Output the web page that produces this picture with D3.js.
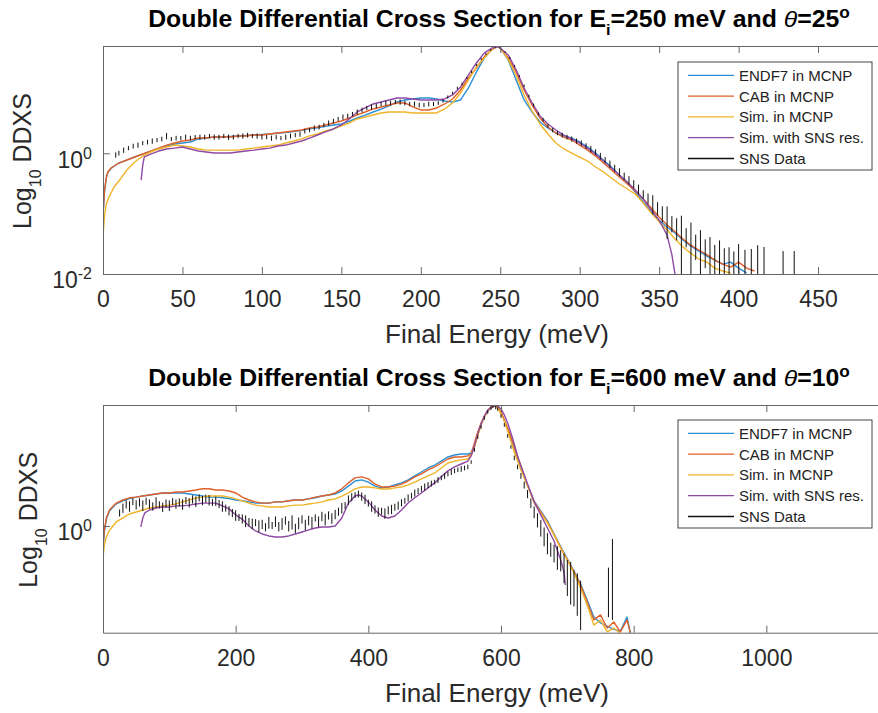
<!DOCTYPE html>
<html>
<head>
<meta charset="utf-8">
<script src="https://cdn.jsdelivr.net/npm/d3@7"></script>
<style>
  body { margin: 0; background: #fff; }
  svg { display: block; }
  text { font-family: "Liberation Sans", Arial, Helvetica, sans-serif; }
</style>
</head>
<body>
<svg id="chart" width="878" height="713"></svg>
<script>
// ---------------- DATA ----------------
const seriesNames = ["ENDF7 in MCNP", "CAB in MCNP", "Sim. in MCNP", "Sim. with SNS res.", "SNS Data"];
const seriesColors = ["#2b8fd6", "#e0602a", "#f0b429", "#8f4aa3", "#111111"];

// Panel 1: Ei = 250 meV, theta = 25 deg
const energy250 = [0,1,2,3,5,7,10,15,20,24,25,26,30,35,40,45,50,55,60,65,70,75,80,85,90,95,100,105,110,115,120,125,130,135,140,145,150,155,160,165,170,175,180,185,190,195,200,205,210,215,220,225,230,235,240,245,248,250,255,260,265,270,275,280,285,290,295,300,305,310,315,320,325,330,335,340,345,350,355,358,360,365,370,375,380,385,390,395,400,405,410];
const endf250 = [0.09,0.24,0.38,0.48,0.56,0.61,0.69,0.77,0.87,null,0.97,null,1.09,1.20,1.33,1.42,1.48,1.54,1.73,1.79,1.86,1.86,1.90,1.94,1.97,2.01,2.05,2.09,2.17,2.21,2.30,2.40,2.55,2.65,2.80,2.95,3.06,3.40,3.85,4.30,4.84,5.40,6.09,7.09,7.65,7.95,8.26,8.26,7.95,7.37,7.09,7.65,12.1,22.3,38.0,53.7,57.9,55.7,35.3,16.4,7.65,4.84,3.30,2.63,2.17,1.94,1.79,1.54,1.27,1.01,0.77,0.59,0.436,0.322,0.228,0.156,0.106,0.078,0.060,null,0.048,0.0365,0.029,0.024,0.0198,0.017,0.0146,0.0157,0.0125,0.0104,null];
const cab250 = [0.095,0.246,0.389,0.49,0.57,0.616,0.69,0.774,0.868,null,0.974,null,1.09,1.22,1.37,1.48,1.60,1.66,1.79,1.79,1.86,1.86,1.86,1.94,1.94,2.01,2.01,2.09,2.17,2.26,2.34,2.43,2.63,2.73,2.95,3.18,3.43,3.85,4.32,4.84,5.43,5.86,6.32,6.83,6.83,5.86,5.23,5.23,5.64,6.57,7.95,11.2,17.7,26.0,40.0,53.0,57.9,55.7,38.0,22.3,11.2,6.32,3.85,2.73,2.17,1.86,1.66,1.37,1.13,0.90,0.69,0.53,0.405,0.31,0.237,0.175,0.124,0.088,0.065,null,0.050,0.038,0.030,0.025,0.021,0.017,0.0146,0.013,0.0157,0.0125,0.0112];
const sim250 = [0.041,0.095,0.139,0.168,0.22,0.276,0.347,0.529,0.717,null,0.902,null,1.05,1.18,1.27,1.37,1.32,1.27,1.18,1.13,1.13,1.13,1.13,1.13,1.18,1.22,1.27,1.32,1.37,1.48,1.60,1.73,1.94,2.09,2.34,2.53,2.84,3.18,3.71,4.00,4.32,4.66,4.84,4.84,4.84,4.66,4.66,4.66,4.66,5.43,6.83,10.0,16.4,27.0,38.0,53.7,57.9,55.7,36.0,19.5,9.26,5.03,3.06,2.09,1.48,1.18,1.01,0.868,0.745,0.593,0.49,0.389,0.31,0.256,0.211,0.15,0.102,0.073,0.054,null,0.038,0.028,0.022,0.0177,0.0157,0.0125,0.0112,0.0104,null,null,null];
const simRes250 = [null,null,null,null,null,null,null,null,null,0.36,0.64,0.87,0.97,1.09,1.18,1.22,1.27,1.18,1.09,1.05,1.01,1.01,1.01,1.05,1.09,1.13,1.18,1.22,1.32,1.37,1.48,1.60,1.79,2.01,2.26,2.53,2.95,3.71,4.84,5.64,6.57,7.09,7.65,8.26,8.26,7.95,7.65,7.65,7.65,7.95,9.26,12.6,19.9,31.4,46.1,55.7,57.9,55.7,42.7,24.1,12.1,6.83,4.16,3.06,2.43,2.01,1.73,1.48,1.22,0.97,0.745,0.57,0.436,0.334,0.246,0.175,0.115,0.078,0.044,0.021,0.0098,null,null,null,null,null,null,null,null,null,null];
const snsE250 = [8,10,13,16,19,22,25,28,31,34,37,
  40,43,46,49,52,55,58,61,64,67,70,
  73,76,79,82,85,88,91,94,97,100,103,
  106,109,112,115,118,121,124,127,130,133,136,
  139,142,145,148,151,154,157,160,163,166,169,
  172,175,178,181,184,187,190,193,196,199,202,
  205,208,211,214,217,220,223,226,229,232,235,
  238,241,244,247,250,253,256,259,262,265,268,
  271,274,277,280,283,286,289,292,295,298,
  301,304,307,310,313,316,319,322,325,328,331,334,337,340,
  343,346,349,352,355,358,361,364,367,370,373,376,379,382,385,388,391,394,397,400,
  404,408,412,416,428,435];
const snsV250 = [0.94,1.01,1.13,1.22,1.32,1.37,1.48,1.54,1.60,1.66,1.73,
  1.94,1.73,1.79,1.79,1.86,1.79,1.86,1.86,1.86,1.94,1.86,
  1.86,1.94,1.86,1.86,1.94,1.94,2.01,1.94,1.94,1.86,1.86,
  1.79,1.86,1.79,1.86,1.94,2.01,2.09,2.34,2.43,2.63,2.73,
  2.95,3.18,3.43,3.71,4.00,4.16,4.49,4.84,5.23,5.64,5.86,
  6.09,6.57,6.83,6.83,7.09,7.09,6.83,6.57,6.57,6.32,6.32,
  6.57,6.57,6.83,7.37,8.58,10.0,12.1,14.1,17.7,22.3,29.1,
  36.6,44.4,51.6,57.9,55.7,47.9,38.0,28.0,19.1,13.1,8.92,
  6.32,4.49,3.57,2.84,2.43,2.17,2.01,1.86,1.73,1.60,
  1.48,1.32,1.18,1.05,0.90,0.774,0.665,0.57,0.49,0.42,0.361,0.31,0.256,0.211,
  0.18,0.15,0.124,0.102,0.085,0.070,0.060,0.050,0.0425,0.0365,0.031,0.028,0.025,0.021,0.019,0.018,0.0157,0.0146,0.0135,0.0157,
  0.014,0.013,0.015,0.014,0.012,0.012];
const snsErr250 = [0.10,0.09,0.10,0.08,0.09,0.10,0.08,0.09,0.10,0.08,0.09,
  0.12,0.08,0.09,0.08,0.10,0.09,0.08,0.10,0.09,0.08,0.10,
  0.09,0.08,0.10,0.09,0.08,0.10,0.09,0.08,0.10,0.09,0.08,
  0.10,0.09,0.08,0.10,0.09,0.08,0.10,0.09,0.08,0.10,0.09,
  0.08,0.10,0.09,0.08,0.10,0.09,0.08,0.10,0.09,0.08,0.10,
  0.09,0.08,0.10,0.09,0.08,0.10,0.09,0.08,0.10,0.09,0.08,
  0.09,0.08,0.07,0.06,0.06,0.05,0.05,0.05,0.04,0.04,0.04,
  0.04,0.04,0.03,0.03,0.03,0.03,0.04,0.04,0.04,0.05,0.05,
  0.06,0.06,0.07,0.07,0.08,0.08,0.09,0.09,0.10,0.10,
  0.10,0.11,0.12,0.11,0.13,0.12,0.14,0.13,0.15,0.14,0.16,0.15,0.18,0.16,
  0.20,0.35,0.25,0.30,0.55,0.30,0.40,0.85,0.35,0.95,0.45,0.90,0.50,0.95,0.60,1.00,0.70,0.90,0.75,1.00,
  0.80,1.00,1.00,1.00,1.00,1.00];
const xTicks250 = [0,50,100,150,200,250,300,350,400,450];
const yTicks250 = [0.01, 1];

// Panel 2: Ei = 600 meV, theta = 10 deg
const energy600 = [0,2,5,10,20,30,40,50,57,60,63,70,80,90,100,110,120,130,140,150,160,170,180,190,200,210,220,230,240,250,260,270,280,290,300,310,320,330,340,350,360,370,380,385,390,400,410,420,430,440,450,460,470,480,490,500,510,520,530,540,550,555,560,565,570,575,580,585,590,595,600,605,610,615,620,625,630,635,640,645,650,660,670,680,690,695,697,700,710,720,730,740,750,760,770,780,790,795];
const endf600 = [0.68,0.90,1.12,1.30,1.46,1.54,1.60,1.64,null,1.67,null,1.70,1.73,1.76,1.76,1.76,1.76,1.73,1.70,1.67,1.64,1.64,1.62,1.60,1.56,1.54,1.51,1.48,1.48,1.48,1.51,1.51,1.54,1.56,1.56,1.59,1.62,1.67,1.70,1.73,1.82,1.98,2.16,null,2.20,2.12,1.98,1.92,1.95,2.02,2.09,2.20,2.36,2.52,2.70,2.84,3.04,3.26,3.37,3.43,3.43,3.49,4.00,4.90,5.75,6.50,7.10,7.52,7.81,7.68,7.00,6.05,5.25,4.50,3.80,3.20,2.76,2.34,2.02,1.76,1.53,1.29,1.09,0.87,0.70,null,null,0.57,0.46,0.37,0.28,0.21,0.19,0.18,0.17,0.165,0.21,0.16];
const cab600 = [0.70,0.93,1.15,1.32,1.48,1.56,1.62,1.64,null,1.67,null,1.70,1.73,1.76,1.76,1.79,1.79,1.82,1.85,1.89,1.89,1.85,1.85,1.82,1.76,1.64,1.56,1.51,1.48,1.48,1.51,1.51,1.54,1.56,1.56,1.59,1.64,1.67,1.70,1.76,1.89,2.09,2.28,null,2.32,2.24,2.05,1.95,1.95,1.98,2.05,2.16,2.32,2.44,2.61,2.75,2.94,3.15,3.26,3.26,3.32,3.43,4.15,5.01,5.84,6.58,7.17,7.55,7.81,7.68,7.05,6.15,5.36,4.59,3.87,3.26,2.80,2.36,2.02,1.76,1.51,1.27,1.07,0.86,0.69,null,null,0.56,0.455,0.364,0.272,0.20,0.218,0.174,0.193,0.163,0.20,0.16];
const sim600 = [0.578,0.722,0.828,0.934,1.071,1.147,1.228,1.27,null,1.315,null,1.36,1.385,1.41,1.43,1.458,1.51,1.56,1.62,1.64,1.67,1.67,1.67,1.64,1.59,1.535,1.48,1.43,1.41,1.385,1.385,1.385,1.41,1.43,1.43,1.458,1.48,1.51,1.56,1.59,1.67,1.76,1.885,null,1.95,1.95,1.92,1.885,1.885,1.92,1.95,2.02,2.12,2.24,2.36,2.48,2.70,2.94,3.04,3.10,3.15,3.37,3.87,4.67,5.64,6.47,7.17,7.68,7.81,7.55,6.81,6.04,5.09,4.22,3.55,3.04,2.61,2.28,1.98,1.73,1.48,1.25,1.053,0.857,0.686,null,null,0.558,0.447,0.346,0.258,0.183,0.20,0.163,0.174,0.158,null,null];
const simRes600 = [null,null,null,null,null,null,null,null,0.983,1.147,1.25,1.315,1.36,1.385,1.385,1.41,1.41,1.43,1.458,1.48,1.48,1.48,1.41,1.34,1.21,1.12,1.0,0.918,0.872,0.843,0.828,0.828,0.843,0.872,0.902,0.934,0.966,0.983,0.983,1.0,1.147,1.48,1.67,1.70,1.67,1.51,1.315,1.187,1.147,1.187,1.315,1.48,1.62,1.76,1.92,2.09,2.32,2.57,2.75,2.89,3.04,3.32,3.94,4.84,5.74,6.58,7.30,7.68,7.81,7.81,7.42,6.70,5.84,4.92,4.07,3.32,2.80,2.40,2.05,1.76,1.51,1.21,0.966,0.773,0.558,0.455,0.364,null,null,null,null,null,null,null,null,null,null,null];
const snsE600 = [25,30,35,40,45,50,55,60,65,70,75,
  80,85,90,95,100,105,110,115,120,125,130,
  135,140,145,150,155,160,165,170,175,180,185,
  190,195,200,205,210,215,220,225,230,235,240,
  245,250,255,260,265,270,275,280,285,290,295,
  300,305,310,315,320,325,330,335,340,345,350,
  355,360,365,370,375,380,385,390,395,400,405,
  410,415,420,425,430,435,440,445,450,455,460,
  465,470,475,480,485,490,495,500,505,510,515,
  520,525,530,535,540,545,550,555,560,565,570,
  575,580,585,588,592,
  595,600,605,610,615,620,625,630,635,640,645,650,655,660,665,670,675,680,685,690,695,700,705,710,715,720,
  762,768];
const snsV600 = [1.25,1.36,1.45,1.40,1.52,1.44,1.50,1.42,1.53,1.46,1.40,
  1.50,1.44,1.38,1.47,1.42,1.52,1.46,1.50,1.45,1.55,1.49,
  1.58,1.52,1.62,1.55,1.60,1.56,1.50,1.53,1.46,1.40,1.36,
  1.30,1.25,1.20,1.16,1.13,1.09,1.07,1.04,1.06,1.00,1.03,
  0.98,1.06,1.01,1.08,0.99,1.04,1.10,1.00,1.07,0.96,1.05,
  1.12,1.02,1.10,1.06,1.15,1.08,1.18,1.12,1.20,1.14,1.22,
  1.28,1.36,1.42,1.56,1.64,1.70,1.73,1.66,1.58,1.48,1.40,
  1.33,1.27,1.29,1.24,1.31,1.33,1.38,1.42,1.49,1.54,1.62,
  1.68,1.76,1.82,1.89,1.95,2.02,2.07,2.12,2.20,2.28,2.36,
  2.44,2.52,2.57,2.62,2.66,2.70,2.75,2.99,3.68,4.59,5.45,
  6.36,7.05,7.55,7.81,7.60,
  7.42,6.58,5.64,4.67,3.87,3.21,2.75,2.36,2.02,1.73,1.48,1.27,1.11,0.97,0.84,0.75,0.67,0.63,0.59,0.56,0.50,0.43,0.40,0.36,0.33,0.28,
  0.35,0.50];
const snsErr600 = [0.06,0.08,0.07,0.09,0.06,0.08,0.07,0.09,0.06,0.08,0.07,
  0.09,0.06,0.08,0.07,0.09,0.06,0.08,0.07,0.09,0.06,0.08,
  0.07,0.09,0.06,0.08,0.07,0.09,0.06,0.08,0.07,0.09,0.06,
  0.08,0.07,0.09,0.06,0.08,0.10,0.07,0.09,0.06,0.10,0.08,
  0.07,0.10,0.06,0.09,0.08,0.10,0.07,0.09,0.12,0.08,0.10,
  0.07,0.09,0.08,0.10,0.06,0.09,0.08,0.10,0.07,0.09,0.08,
  0.07,0.09,0.06,0.08,0.07,0.05,0.06,0.07,0.08,0.06,0.09,
  0.07,0.08,0.06,0.09,0.07,0.08,0.06,0.07,0.06,0.05,0.06,
  0.05,0.06,0.05,0.05,0.06,0.05,0.05,0.04,0.05,0.04,0.05,
  0.04,0.05,0.04,0.04,0.05,0.04,0.04,0.03,0.03,0.03,0.03,
  0.03,0.03,0.03,0.03,0.03,
  0.03,0.03,0.03,0.03,0.03,0.04,0.04,0.05,0.06,0.07,0.08,0.10,0.12,0.14,0.16,0.18,0.12,0.15,0.20,0.18,0.25,0.30,0.35,0.30,0.35,0.40,
  0.40,0.60];
const xTicks600 = [0,200,400,600,800,1000];
const yTicks600 = [1];

// ---------------- DRAWING ----------------
const svg = d3.select("#chart");
const FONT = '"Liberation Sans", Arial, Helvetica, sans-serif';

function drawPanel(p) {
  const x = d3.scaleLinear().domain(p.xDomain).range([p.left, p.right]);
  const y = d3.scaleLog().domain(p.yDomain).range([p.bottom, p.top]);
  const root = svg.append("g");

  root.append("defs").append("clipPath").attr("id", p.id)
    .append("rect").attr("x", p.left).attr("y", p.top)
    .attr("width", p.right - p.left).attr("height", p.bottom - p.top);

  const plot = root.append("g").attr("clip-path", `url(#${p.id})`);
  const line = d3.line().x(d => x(d[0])).y(d => y(d[1]));

  p.series.forEach((vals, i) => {
    const pts = p.energy.map((e, j) => [e, vals[j]]).filter(d => d[1] != null);
    plot.append("path").datum(pts)
      .attr("d", line)
      .attr("fill", "none")
      .attr("stroke", seriesColors[i])
      .attr("stroke-width", 1.4)
      .attr("stroke-linejoin", "round");
  });

  const pts = p.snsE.map((e, j) => ({ e, v: p.snsV[j], r: p.snsErr[j] }));
  plot.selectAll("line.err").data(pts).join("line")
    .attr("class", "err")
    .attr("x1", d => x(d.e)).attr("x2", d => x(d.e))
    .attr("y1", d => y(Math.max(d.v * (1 - d.r), p.yDomain[0] * 0.5)))
    .attr("y2", d => y(d.v * (1 + d.r)))
    .attr("stroke", seriesColors[4])
    .attr("stroke-width", 1);

  // axes
  const gB = root.append("g").attr("transform", `translate(0,${p.bottom})`)
    .call(d3.axisBottom(x).tickValues(p.xTicks).tickSizeInner(-7).tickSizeOuter(0).tickPadding(17).tickFormat(d3.format("d")));
  const gT = root.append("g").attr("transform", `translate(0,${p.top})`)
    .call(d3.axisTop(x).tickValues(p.xTicks).tickSizeInner(-7).tickSizeOuter(0).tickFormat(""));
  const gL = root.append("g").attr("transform", `translate(${p.left},0)`)
    .call(d3.axisLeft(y).tickValues(p.yTicks).tickSizeInner(-7).tickSizeOuter(0).tickPadding(11).tickFormat(() => ""));
  const gR = root.append("g").attr("transform", `translate(${p.right},0)`)
    .call(d3.axisRight(y).tickValues(p.yTicks).tickSizeInner(-7).tickSizeOuter(0).tickFormat(""));

  [gB, gT, gL, gR].forEach(g => {
    g.selectAll(".domain, .tick line").attr("stroke", "#666").attr("stroke-width", 1);
    g.selectAll("text").attr("font-family", FONT).attr("font-size", 23).attr("fill", "#2a2a2a");
  });

  gL.selectAll(".tick text").each(function(d) {
    const t = d3.select(this);
    const ex = Math.round(Math.log10(d));
    t.text(null).attr("dy", null).attr("y", 13.7);
    t.append("tspan").text("10");
    t.append("tspan").attr("dy", -9).attr("font-size", 16).text(String(ex));
  });

  // y label
  const yl = root.append("text")
    .attr("transform", `translate(${p.ylabelX},${(p.top + p.bottom) / 2 + 1}) rotate(-90)`)
    .attr("text-anchor", "middle").attr("font-size", 25).attr("fill", "#2a2a2a");
  yl.append("tspan").text("Log");
  yl.append("tspan").attr("dy", 10).attr("font-size", 16).text("10");
  yl.append("tspan").attr("dy", -10).text(" DDXS");

  // x label
  root.append("text").attr("x", 497).attr("y", p.bottom + 69)
    .attr("text-anchor", "middle").attr("font-size", 26).attr("fill", "#2a2a2a")
    .text("Final Energy (meV)");

  // title
  const tt = root.append("text").attr("text-anchor", "middle")
    .attr("font-size", 23).attr("font-weight", "bold").attr("fill", "#000");
  tt.append("tspan").text("Double Differential Cross Section for E");
  tt.append("tspan").attr("dy", 8).attr("font-size", 15).text("i");
  tt.append("tspan").attr("dy", -8).text("=" + p.ei + " meV and ");
  tt.append("tspan").attr("font-style", "italic").attr("font-weight", "normal").text("\u03B8");
  tt.append("tspan").text("=" + p.theta);
  tt.append("tspan").attr("dy", -9).attr("font-size", 16).text("o");
  const w = tt.node().getComputedTextLength();
  const sx = 702 / w;
  tt.attr("transform", `translate(499,${p.top - 19}) scale(${sx},1)`);

  // legend
  const lg = root.append("g").attr("transform", `translate(678,${p.legendTop})`);
  lg.append("rect").attr("x", 0).attr("y", 0).attr("width", 194).attr("height", 108)
    .attr("fill", "#fff").attr("stroke", "#444").attr("stroke-width", 1);
  seriesNames.forEach((name, i) => {
    const yy = 13.3 + i * 20.8;
    lg.append("line").attr("x1", 10).attr("x2", 56).attr("y1", yy).attr("y2", yy)
      .attr("stroke", seriesColors[i]).attr("stroke-width", 1.3);
    lg.append("text").attr("x", 61).attr("y", yy).attr("dy", "0.36em")
      .attr("font-size", 15).attr("fill", "#222").text(name);
  });
}

drawPanel({
  id: "clip250", left: 103, right: 897.5, top: 46, bottom: 274,
  xDomain: [0, 500], yDomain: [0.01, 60],
  xTicks: xTicks250, yTicks: yTicks250,
  energy: energy250, series: [endf250, cab250, sim250, simRes250],
  snsE: snsE250, snsV: snsV250, snsErr: snsErr250,
  ei: "250", theta: "25", ylabelX: 31, legendTop: 62
});

drawPanel({
  id: "clip600", left: 103, right: 899, top: 405, bottom: 632.7,
  xDomain: [0, 1200], yDomain: [0.1607, 7.94],
  xTicks: xTicks600, yTicks: yTicks600,
  energy: energy600, series: [endf600, cab600, sim600, simRes600],
  snsE: snsE600, snsV: snsV600, snsErr: snsErr600,
  ei: "600", theta: "10", ylabelX: 37, legendTop: 420
});
</script>
</body>
</html>
